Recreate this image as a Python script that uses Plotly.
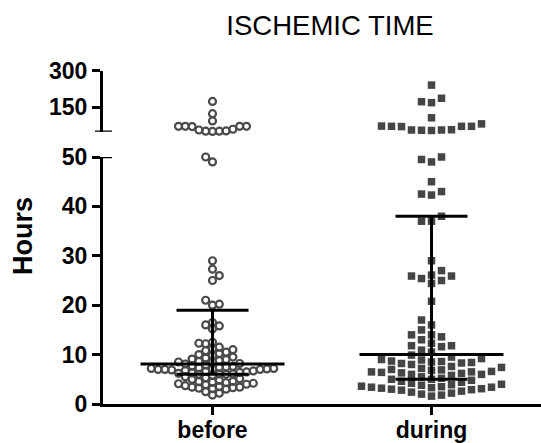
import numpy as np
import plotly.graph_objects as go

# ---------------- data ----------------
groups = ["before", "during"]

before_hours = [
    174, 124,
    94, 72, 72, 72, 72, 71, 60, 57, 53, 52, 52, 51,
    50, 49,
    29, 27.3, 26, 25,
    21, 20.2, 20,
    16.5, 16, 15.8, 15.2,
    12.5, 12.3, 12.2,
    11.5, 11.2, 11,
    10.8, 10.5, 10.2, 10,
    9.8, 9.5, 9.3, 9.1, 9,
    8.8, 8.6, 8.5, 8.4, 8.2, 8.1,
    7.9, 7.7, 7.6, 7.5, 7.4, 7.3, 7.2, 7.2, 7.1, 7.1, 7.0, 7.0, 7.0,
    6.9, 6.8, 6.7, 6.6, 6.5, 6.4, 6.3, 6.2, 6.1, 6.1, 6.0, 6.0,
    5.8, 5.5, 5.3, 5.1, 5.0,
    4.8, 4.6, 4.5, 4.4, 4.3, 4.2, 4.1, 4.0,
    3.9, 3.7, 3.5, 3.4, 3.4, 3.3, 3.2, 3.1, 3.0,
    2.5, 2.2, 1.8,
]

during_hours = [
    241, 187, 173, 169, 107, 82, 72, 72, 71, 73, 72, 57, 55, 58, 56, 57,
    50, 49.5, 49,
    45, 43, 42.3, 42.5,
    38, 37, 37,
    29, 27, 26.1, 25.9, 25.4, 25.9, 25, 24.4,
    20.8, 17, 16, 15, 14, 13.6, 14,
    13, 12.3, 11.8, 11.6, 11.8,
    10.9, 10.5, 9.9,
    9.5, 9.2, 9.0,
    8.9, 8.7, 8.6, 8.5, 8.4, 8.3, 8.2, 8.0,
    7.6, 7.4, 7.2, 7.0,
    6.9, 6.8, 6.6, 6.5, 6.5, 6.4, 6.3, 6.2, 6.0, 6.0,
    5.8, 5.5, 5.2, 5.0, 5.0,
    4.8, 4.6, 4.4, 4.2, 4.0, 3.9, 3.8,
    3.6, 3.5, 3.4, 3.4, 3.3, 3.2, 3.1, 3.0, 2.9, 2.8, 2.6,
    2.4, 2.2, 2.0, 1.8, 1.6,
]

medians = [8.1, 10.0]
q1 = [6.0, 5.0]
q3 = [19.0, 38.0]

y_ticks_low = [0, 10, 20, 30, 40, 50]
y_ticks_high = [150, 300]

# ---------------- layout geometry ----------------
W, H = 541, 443
ML = 103
plot_w = W - ML
low_dom = [(H - 404) / H, (H - 157) / H]
high_dom = [(H - 131.7) / H, (H - 70.7) / H]
low_range = [0, 50]
high_range = [50, 300]
BREAK = 50.5
x_range = [-0.5, 1.5]
px_per_x = plot_w / (x_range[1] - x_range[0])


def to_px(v):
    if v <= BREAK:
        d0, d1 = low_dom
        r0, r1 = low_range
    else:
        d0, d1 = high_dom
        r0, r1 = high_range
    frac = d0 + (v - r0) / (r1 - r0) * (d1 - d0)
    return H * (1 - frac)


def swarm(values, col_px, min_dy):
    pys = [to_px(v) for v in values]
    order = np.argsort(pys)[::-1]
    placed = {}
    offs = np.zeros(len(values))
    toggle = 1
    for i in order:
        py = pys[i]
        for j in range(0, 60):
            cands = [0] if j == 0 else [toggle * j, -toggle * j]
            ok = [c for c in cands if all(abs(py - q) >= min_dy for q in placed.get(c, []))]
            if ok:
                c = ok[0]
                placed.setdefault(c, []).append(py)
                offs[i] = c * col_px
                if c != 0:
                    toggle = -toggle
                break
    return offs


fig = go.Figure()

styles = [
    dict(symbol="circle-open", size=7, color="#4a4a4a", line=dict(width=2.2, color="#4a4a4a")),
    dict(symbol="square", size=7.5, color="#454545", line=dict(width=0)),
]
swarm_params = [(6.8, 6.0), (10.0, 8.2)]

for gi, vals in enumerate([before_hours, during_hours]):
    offs = swarm(vals, *swarm_params[gi])
    vals = np.array(vals, dtype=float)
    xs = gi + offs / px_per_x
    low = vals <= BREAK
    fig.add_trace(go.Scatter(x=xs[low], y=vals[low], mode="markers", marker=styles[gi],
                             xaxis="x", yaxis="y", cliponaxis=False, hoverinfo="y"))
    fig.add_trace(go.Scatter(x=xs[~low], y=vals[~low], mode="markers", marker=styles[gi],
                             xaxis="x", yaxis="y2", cliponaxis=False, hoverinfo="y"))

med_half = 72 / px_per_x
q_half = 36 / px_per_x
line_style = dict(color="black", width=3)
for gi in range(2):
    fig.add_trace(go.Scatter(x=[gi - med_half, gi + med_half], y=[medians[gi]] * 2, mode="lines",
                             line=line_style, xaxis="x", yaxis="y", hoverinfo="skip"))
    for qv in (q1[gi], q3[gi]):
        fig.add_trace(go.Scatter(x=[gi - q_half, gi + q_half], y=[qv, qv], mode="lines",
                                 line=line_style, xaxis="x", yaxis="y", hoverinfo="skip"))
    fig.add_trace(go.Scatter(x=[gi, gi], y=[q1[gi], q3[gi]], mode="lines",
                             line=line_style, xaxis="x", yaxis="y", hoverinfo="skip"))

FONT = "Liberation Sans, Arial, sans-serif"
tick_font = dict(family=FONT, size=23, color="black", weight="bold")

axis_common = dict(showline=True, linewidth=3, linecolor="black", ticks="outside", ticklen=8,
                   tickwidth=2.5, tickcolor="black", showgrid=False, zeroline=False,
                   tickfont=tick_font, automargin=False)

# axis-break caps
fig.add_shape(type="line", xref="paper", yref="y", x0=0, x1=9 / plot_w, y0=50, y1=50,
              line=dict(color="black", width=2.5))
fig.add_shape(type="line", xref="paper", yref="y2", x0=-8 / plot_w, x1=9 / plot_w, y0=50, y1=50,
              line=dict(color="black", width=2.5))

fig.add_annotation(text="Hours", xref="paper", yref="paper", x=(23 - ML) / plot_w,
                   y=(H - 236) / H, textangle=-90, showarrow=False,
                   font=dict(family=FONT, size=27, color="black", weight="bold"),
                   xanchor="center", yanchor="middle")

fig.update_layout(
    width=W, height=H,
    margin=dict(l=ML, r=0, t=0, b=0, pad=0),
    paper_bgcolor="white", plot_bgcolor="white", showlegend=False,
    title=dict(text="ISCHEMIC TIME", x=330 / W, xref="container", y=1 - 25.5 / H,
               yref="container", xanchor="center", yanchor="middle", automargin=False,
               font=dict(family=FONT, size=27.5, color="black")),
    xaxis=dict(range=x_range, tickvals=[0, 1], ticktext=groups, anchor="y",
               ticklabelstandoff=-5, **axis_common),
    yaxis=dict(domain=low_dom, range=low_range, tickvals=y_ticks_low, anchor="x", **axis_common),
    yaxis2=dict(domain=high_dom, range=high_range, tickvals=y_ticks_high, anchor="x", **axis_common),
)

fig.write_html("out.html", config={"displayModeBar": False},
               post_script="document.body.style.margin='0px';")
